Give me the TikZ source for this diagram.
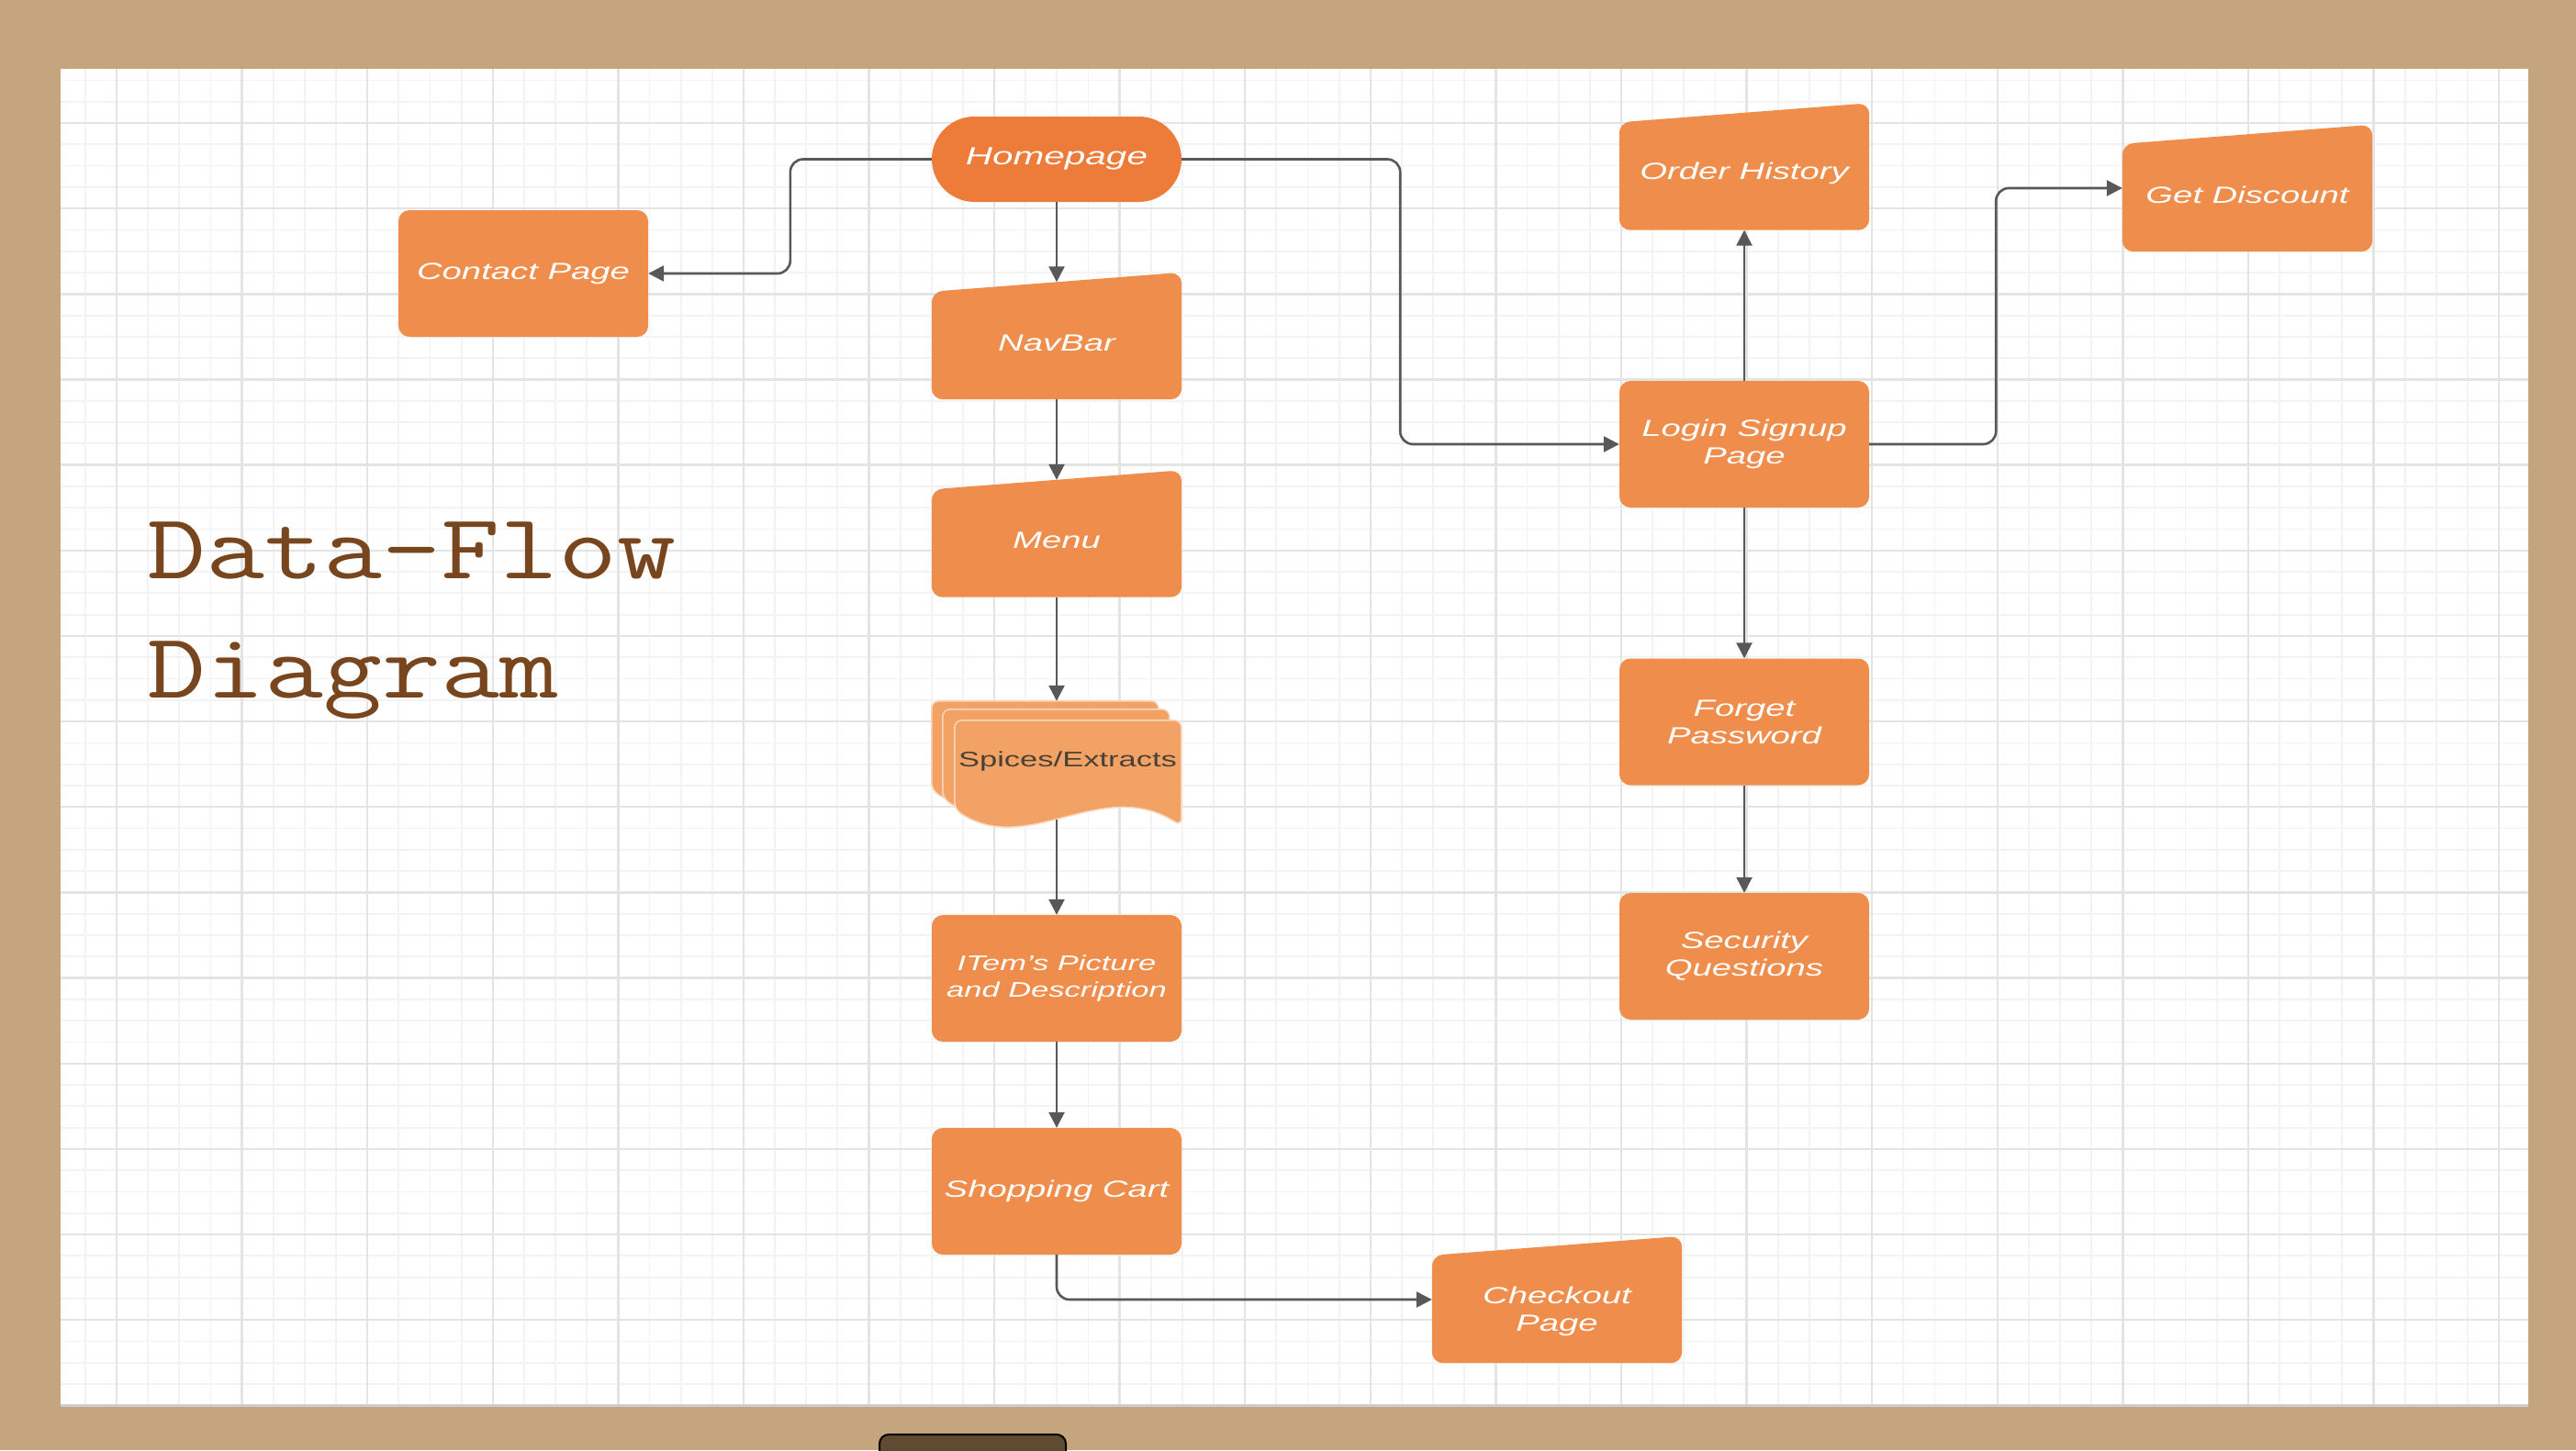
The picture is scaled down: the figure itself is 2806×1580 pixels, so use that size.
\documentclass[tikz,border=0pt]{standalone}
\usepackage{fontspec}
\setmainfont{Liberation Sans}
\usepackage{graphicx}
\usetikzlibrary{arrows.meta,shapes.misc}

\definecolor{marco}{RGB}{197,165,125}
\definecolor{naranja}{RGB}{239,141,76}
\definecolor{naranjaosc}{RGB}{237,123,58}
\definecolor{naranjacla}{RGB}{242,162,100}
\definecolor{flecha}{RGB}{88,88,88}
\definecolor{rejilla}{RGB}{243,243,243}
\definecolor{rejillamay}{RGB}{228,228,228}
\definecolor{titulo}{RGB}{120,70,30}
\definecolor{boton}{RGB}{95,75,50}
\definecolor{textodoc}{RGB}{74,64,54}

\pgfdeclarelayer{papel}
\pgfdeclarelayer{fondo}
\pgfsetlayers{papel,fondo,main}

\newcommand{\lbl}[1]{\scalebox{1.5}[1]{#1}}

\tikzset{
  caja/.style={rectangle, rounded corners=12, fill=naranja, minimum width=272, minimum height=138,
    inner sep=0, align=center, text=white, font=\fontsize{25.5}{30}\selectfont\itshape},
  entrada/.style={caja, fill=none, execute at begin node={\rule{0pt}{1.3em}}},
  docs/.style={rectangle, minimum width=272, minimum height=139, inner sep=0},
  doctexto/.style={text=textodoc, font=\fontsize{23}{28}\selectfont, xshift=12, yshift=3.5},
  flujo/.style={draw=flecha, line width=2.6, rounded corners=14, -{Triangle[length=17pt,width=17pt]}},
  tituloletra/.style={anchor=base west, inner sep=0, text=titulo, font=\fontsize{101}{130}\selectfont\ttfamily},
}

\begin{document}
\begin{tikzpicture}[x=1pt,y=-1pt]
  \useasboundingbox (0,0) rectangle (2806,1580);

  % Fondo y cuadricula
  \begin{pgfonlayer}{papel}
    \fill[marco] (0,0) rectangle (2806,1580);
    \fill[white] (66,75) rectangle (2754,1532);
    \begin{scope}
      \clip (66,75) rectangle (2754,1532);
      \foreach \k in {-1,...,76}
        \draw[rejilla, line width=1.8] ({127+\k*34.145},75) -- ({127+\k*34.145},1532);
      \foreach \k in {-2,...,60}
        \draw[rejilla, line width=1.8] (66,{134+\k*23.29}) -- (2754,{134+\k*23.29});
      \foreach \k in {0,4,...,76}
        \draw[rejillamay, line width=2.4] ({127+\k*34.145},75) -- ({127+\k*34.145},1532);
      \foreach \k in {0,4,...,60}
        \draw[rejillamay, line width=2.4] (66,{134+\k*23.29}) -- (2754,{134+\k*23.29});
    \end{scope}
    \draw[rejillamay!90!black, line width=3] (66,1531) -- (2754,1531);
    \draw[fill=boton, draw=black, line width=2, rounded corners=10] (958,1563) rectangle (1161,1610);
  \end{pgfonlayer}

  % Titulo
  \node[tituloletra] (titulo1) at (160,630) {\scalebox{1.23}[1]{Data-Flow}};
  \node[tituloletra] (titulo2) at (160,760) {\scalebox{1.23}[1]{Diagram}};

  % Nodos
  \node[rounded rectangle, fill=naranjaosc, minimum width=272, minimum height=93, inner sep=0,
    text=white, font=\fontsize{27}{30}\selectfont\itshape] (home) at (1151,173.5) {\lbl{Homepage}};
  \node[caja] (contact) at (570,298) {\lbl{Contact Page}};
  \node[entrada] (navbar) at (1151,366) {\lbl{NavBar}};
  \node[entrada] (menu) at (1151,581.5) {\lbl{Menu}};
  \node[docs, label={[doctexto]center:\lbl{Spices/Extracts}}] (spices) at (1151,833.5) {};
  \node[caja, font=\fontsize{23}{29}\selectfont\itshape] (item) at (1151,1066) {\lbl{ITem's Picture}\\\lbl{and Description}};
  \node[caja] (cart) at (1151,1298) {\lbl{Shopping Cart}};
  \node[entrada] (checkout) at (1696,1416) {\rule{0pt}{1.75em}\lbl{Checkout}\\\lbl{Page}};
  \node[entrada] (orderhist) at (1900,181.5) {\lbl{Order History}};
  \node[caja] (login) at (1900,484) {\lbl{Login Signup}\\\lbl{Page}};
  \node[entrada] (discount) at (2448,205) {\lbl{Get Discount}};
  \node[caja] (forget) at (1900,786.5) {\lbl{Forget}\\\lbl{Password}};
  \node[caja] (security) at (1900,1042) {\lbl{Security}\\\lbl{Questions}};

  % Formas inclinadas y documentos
  \begin{pgfonlayer}{fondo}
    \foreach \n in {navbar,menu,checkout,orderhist,discount}
      \fill[naranja, rounded corners=12] ([yshift=-21]\n.north west) -- (\n.north east)
        -- (\n.south east) -- (\n.south west) -- cycle;
    \begin{scope}[shift={(spices.north west)}]
      \foreach \dx/\dy in {0/0,12/9,25/21}
        \filldraw[fill=naranjacla, draw=white!55!naranjacla, line width=1.5, rounded corners=8]
          (\dx,\dy+97) -- (\dx,\dy) -- (\dx+247,\dy) -- (\dx+247,\dy+115)
          .. controls (\dx+160,\dy+60) and (\dx+80,\dy+150) .. (\dx,\dy+97) -- cycle;
    \end{scope}
  \end{pgfonlayer}

  % Flechas
  \draw[flujo] (home.west) -- ++(-154,0) |- (contact.east);
  \draw[flujo] (home.east) -- ++(238,0) |- (login.west);
  \draw[flujo] (home.south) -- ([yshift=-10.5]navbar.north);
  \draw[flujo] (navbar.south) -- ([yshift=-10.5]menu.north);
  \draw[flujo] (menu.south) -- (spices.north);
  \draw[flujo] ([yshift=10]spices.south) -- (item.north);
  \draw[flujo] (item.south) -- (cart.north);
  \draw[flujo] (cart.south) |- (checkout.west);
  \draw[flujo] (login.north) -- (orderhist.south);
  \draw[flujo] (login.east) -- ++(138,0) |- (discount.west);
  \draw[flujo] (login.south) -- (forget.north);
  \draw[flujo] (forget.south) -- (security.north);
\end{tikzpicture}
\end{document}
